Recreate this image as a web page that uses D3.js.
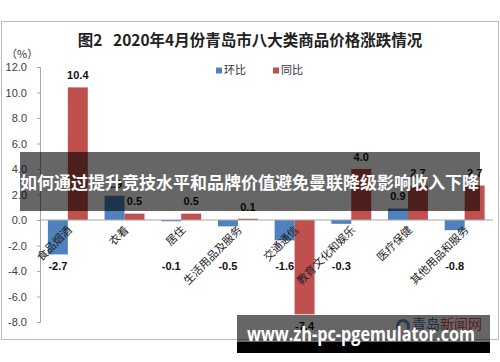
<!DOCTYPE html>
<html>
<head>
<meta charset="utf-8">
<script src="https://cdn.jsdelivr.net/npm/d3@7"></script>
<style>
  body { margin: 0; background: #fff; }
  text { font-family: "Liberation Sans", Arial, "Noto Sans CJK SC", sans-serif; }
  .cjk { font-family: "Noto Sans CJK SC", sans-serif; }
</style>
</head>
<body>
<div id="chart"></div>
<script>
const categories = ["食品烟酒", "衣着", "居住", "生活用品及服务", "交通通信", "教育文化和娱乐", "医疗保健", "其他用品和服务"];
const seriesNames = ["环比", "同比"];
const huanbi = [-2.7, 1.9, -0.1, -0.5, -1.6, -0.3, 0.9, -0.8];
const tongbi = [10.4, 0.5, 0.5, 0.1, -7.4, 4.0, 2.7, 2.7];
const yTicks = [-8, -6, -4, -2, 0, 2, 4, 6, 8, 10, 12];
const colors = ["#4f81bd", "#c0504d"];

const width = 500, height = 362;
const fmt = v => (v < 0 ? "-" : "") + d3.format(".1f")(Math.abs(v));

const svg = d3.select("#chart").append("svg")
    .attr("width", width)
    .attr("height", height);

// outer frame
svg.append("rect")
    .attr("x", 1.5).attr("y", 21.5)
    .attr("width", 497).attr("height", 318)
    .attr("fill", "none").attr("stroke", "#bcbcbc");

// title
svg.append("text")
    .attr("class", "cjk")
    .attr("x", 250).attr("y", 46)
    .attr("text-anchor", "middle")
    .style("font-size", "15.5px").style("font-weight", "bold")
    .attr("fill", "#222")
    .attr("xml:space", "preserve")
    .text("图2   2020年4月份青岛市八大类商品价格涨跌情况");

svg.append("text")
    .attr("class", "cjk")
    .attr("x", 6).attr("y", 58)
    .style("font-size", "11px").attr("fill", "#333")
    .text("（%）");

let y = d3.scaleLinear().domain([-8, 12]).range([322, 67]);
let x = d3.scaleBand().domain(categories).range([39.5, 493]);
let x1 = d3.scaleBand().domain(seriesNames).range([0, x.bandwidth()]).paddingOuter(0.42);

// y axis
let yAxis = svg.append("g")
    .attr("transform", "translate(40,0)")
    .call(d3.axisLeft(y).tickValues(yTicks).tickFormat(fmt).tickSize(3).tickPadding(10));
yAxis.select(".domain").attr("stroke", "#a6a6a6");
yAxis.selectAll(".tick line").attr("stroke", "#a6a6a6");
yAxis.selectAll(".tick text")
    .style("font-size", "11px")
    .attr("fill", "#404040");

// bars
const rows = categories.map((c, i) => ({ cat: c, vals: [huanbi[i], tongbi[i]] }));
const groups = svg.selectAll(".grp")
    .data(rows)
    .enter().append("g")
    .attr("class", "grp")
    .attr("transform", d => "translate(" + x(d.cat) + ",0)");

groups.selectAll("rect")
    .data(d => d.vals.map((v, j) => ({ name: seriesNames[j], v: v, j: j })))
    .enter().append("rect")
    .attr("x", d => x1(d.name))
    .attr("width", x1.bandwidth())
    .attr("y", d => y(Math.max(0, d.v)))
    .attr("height", d => Math.abs(y(d.v) - y(0)))
    .attr("fill", d => colors[d.j]);

// zero line
svg.append("line")
    .attr("x1", 40).attr("x2", 493)
    .attr("y1", y(0)).attr("y2", y(0))
    .attr("stroke", "#a6a6a6");

// data labels
groups.selectAll(".lbl")
    .data(d => d.vals.map((v, j) => ({ name: seriesNames[j], v: v })))
    .enter().append("text")
    .attr("class", "lbl")
    .attr("x", d => x1(d.name) + x1.bandwidth() / 2)
    .attr("y", d => d.v >= 0 ? y(d.v) - 12 : y(Math.min(d.v, -2.7)) + 12)
    .attr("dy", "0.35em")
    .attr("text-anchor", "middle")
    .style("font-size", "11px").style("font-weight", "bold")
    .attr("fill", "#111")
    .text(d => fmt(d.v));

// category labels
groups.append("text")
    .attr("class", "cjk")
    .attr("transform", "translate(" + (x.bandwidth() / 2 + 2) + "," + (y(0) + 8) + ") rotate(-45)")
    .attr("text-anchor", "end")
    .attr("dy", "0.35em")
    .style("font-size", "11px")
    .attr("fill", "#222")
    .text(d => d.cat);

// legend
const legend = svg.append("g");
[216, 273].forEach((lx, j) => {
    legend.append("rect")
        .attr("x", lx).attr("y", 67.5)
        .attr("width", 6).attr("height", 6)
        .attr("fill", colors[j]);
    legend.append("text")
        .attr("class", "cjk")
        .attr("x", lx + 8).attr("y", 70.5)
        .attr("dy", "0.35em")
        .style("font-size", "11px").attr("fill", "#333")
        .text(seriesNames[j]);
});

// watermark under bottom band
svg.append("path")
    .attr("d", d3.arc()({ innerRadius: 4, outerRadius: 7, startAngle: -2.6, endAngle: 2.2 }))
    .attr("transform", "translate(403,326)")
    .attr("fill", "#3b6db3").attr("opacity", 0.8);
svg.append("text").attr("class", "cjk")
    .attr("x", 412).attr("y", 329)
    .style("font-size", "14px").attr("fill", "#3b6db3")
    .text("青岛");
svg.append("text").attr("class", "cjk")
    .attr("x", 440).attr("y", 329)
    .style("font-size", "14px").attr("fill", "#d45050")
    .text("新闻网");

// overlay bands
svg.append("rect")
    .attr("x", 20).attr("y", 152)
    .attr("width", 460).attr("height", 59)
    .attr("fill", "#000").attr("opacity", 0.6);
svg.append("text")
    .attr("class", "cjk")
    .attr("x", 20).attr("y", 183)
    .attr("dy", "0.35em")
    .attr("textLength", 459).attr("lengthAdjust", "spacingAndGlyphs")
    .style("font-size", "17px").style("font-weight", "bold")
    .attr("fill", "#fff")
    .text("如何通过提升竞技水平和品牌价值避免曼联降级影响收入下降");

svg.append("rect")
    .attr("x", 237).attr("y", 315)
    .attr("width", 253).attr("height", 27)
    .attr("fill", "#000").attr("opacity", 0.6);
svg.append("rect")
    .attr("x", 237).attr("y", 342)
    .attr("width", 253).attr("height", 11)
    .attr("fill", "#000");
svg.append("text")
    .attr("x", 247).attr("y", 341)
    .attr("textLength", 228).attr("lengthAdjust", "spacingAndGlyphs")
    .style("font-size", "19px").style("font-weight", "bold")
    .style("font-family", "'Open Sans', 'DejaVu Sans', sans-serif")
    .attr("fill", "#fff")
    .text("www.zh-pc-pgemulator.com");
</script>
</body>
</html>
